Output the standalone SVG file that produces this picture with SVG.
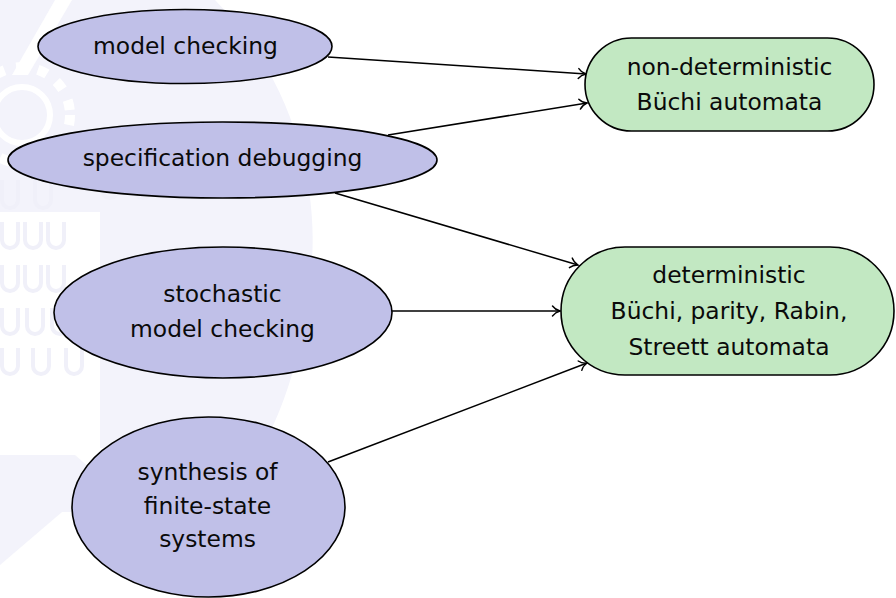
<svg xmlns="http://www.w3.org/2000/svg" width="896" height="598" viewBox="0 0 896 598">
  <style>
    .wm { fill: #f3f3fb; }
    .wmu { fill: none; stroke: #f0f0f9; stroke-width: 4; }
    .src { fill: #c0c0e8; stroke: #000; stroke-width: 1.6; }
    .dst { fill: #c2e8c2; stroke: #000; stroke-width: 1.6; }
    .lbl { font-family: "DejaVu Sans", "Liberation Sans", sans-serif; font-size: 23.4px; fill: #0a0a0a; text-anchor: middle; }
    .edge { fill: none; stroke: #000; stroke-width: 1.5; marker-end: url(#to); }
  </style>
  <defs>
    <marker id="to" viewBox="-9 -6 11 12" refX="0" refY="0" markerWidth="11" markerHeight="12" markerUnits="userSpaceOnUse" orient="auto">
      <path d="M -7.5 -5 C -5.5 -2.2 -2.2 -0.6 0 0 C -2.2 0.6 -5.5 2.2 -7.5 5" fill="none" stroke="#000" stroke-width="1.4" stroke-linecap="round"/>
    </marker>
  </defs>
  <rect width="896" height="598" fill="#ffffff"/>
  <g id="watermark">
    <path class="wm" d="M 0 0 H 215 C 285 70 318 170 312 260 C 306 340 288 400 262 448 H 100 V 212 H 0 Z"/>
    <path d="M 55 0 L 72 0 L 28 75 L 12 75 Z" fill="#ffffff"/>
    <circle cx="22" cy="115" r="28" fill="none" stroke="#ffffff" stroke-width="6"/>
    <circle cx="22" cy="115" r="48" fill="none" stroke="#ffffff" stroke-width="10" stroke-dasharray="10 12"/>
    <path class="wm" d="M 0 455 H 75 L 140 512 H 62 L 0 565 Z"/>
    <g class="wmu">
      <path d="M 2 180 V 200 A 8 8 0 0 0 18 200 V 180 M 35 180 V 200 A 8 8 0 0 0 51 200 V 180"/>
      <path d="M 2 222 V 240 A 8 8 0 0 0 18 240 V 222 M 25 222 V 240 A 8 8 0 0 0 41 240 V 222 M 48 222 V 240 A 8 8 0 0 0 64 240 V 222"/>
      <path d="M 2 265 V 283 A 8 8 0 0 0 18 283 V 265 M 25 265 V 283 A 8 8 0 0 0 41 283 V 265 M 48 265 V 283 A 8 8 0 0 0 64 283 V 265"/>
      <path d="M 2 308 V 326 A 8 8 0 0 0 18 326 V 308 M 27 308 V 326 A 8 8 0 0 0 43 326 V 308 M 52 308 V 326 A 8 8 0 0 0 68 326 V 308"/>
      <path d="M 2 348 V 366 A 8 8 0 0 0 18 366 V 348 M 33 348 V 366 A 8 8 0 0 0 49 366 V 348 M 66 348 V 366 A 8 8 0 0 0 82 366 V 348"/>
      <path d="M 102 178 V 190 A 8 8 0 0 0 118 190 V 178 M 135 178 V 190 A 8 8 0 0 0 151 190 V 178 M 167 178 V 190 A 8 8 0 0 0 183 190 V 178"/>
    </g>
  </g>
  <g id="connectors">
    <line class="edge" x1="328" y1="57" x2="586" y2="74"/>
    <line class="edge" x1="388" y1="135" x2="587" y2="103"/>
    <line class="edge" x1="335" y1="193" x2="578" y2="265"/>
    <line class="edge" x1="392" y1="311" x2="560" y2="311"/>
    <line class="edge" x1="328" y1="462" x2="587" y2="363"/>
  </g>
  <g id="n-model-checking">
    <ellipse class="src" cx="185" cy="46.5" rx="147" ry="37"/>
    <text class="lbl" x="185.5" y="53.5">model checking</text>
  </g>
  <g id="n-spec-debugging">
    <ellipse class="src" cx="222.5" cy="160" rx="214.5" ry="38"/>
    <text class="lbl" x="222.5" y="166">specification debugging</text>
  </g>
  <g id="n-stochastic">
    <ellipse class="src" cx="223" cy="312.5" rx="169" ry="65.5"/>
    <text class="lbl" x="222.5" y="301.7">stochastic</text>
    <text class="lbl" x="222.5" y="336.7">model checking</text>
  </g>
  <g id="n-synthesis">
    <ellipse class="src" cx="208.5" cy="507" rx="136.5" ry="90"/>
    <text class="lbl" x="207.5" y="480">synthesis of</text>
    <text class="lbl" x="207.5" y="513.5">finite-state</text>
    <text class="lbl" x="207.5" y="547">systems</text>
  </g>
  <g id="n-nondet">
    <rect class="dst" x="585" y="38" width="289" height="93" rx="46.5" ry="46.5"/>
    <text class="lbl" x="729.5" y="74.5">non-deterministic</text>
    <text class="lbl" x="729.5" y="110">Büchi automata</text>
  </g>
  <g id="n-det">
    <rect class="dst" x="561" y="247" width="333" height="128" rx="64" ry="64"/>
    <text class="lbl" x="729" y="283">deterministic</text>
    <text class="lbl" x="729" y="318.7">Büchi, parity, Rabin,</text>
    <text class="lbl" x="729" y="354.5">Streett automata</text>
  </g>
</svg>
